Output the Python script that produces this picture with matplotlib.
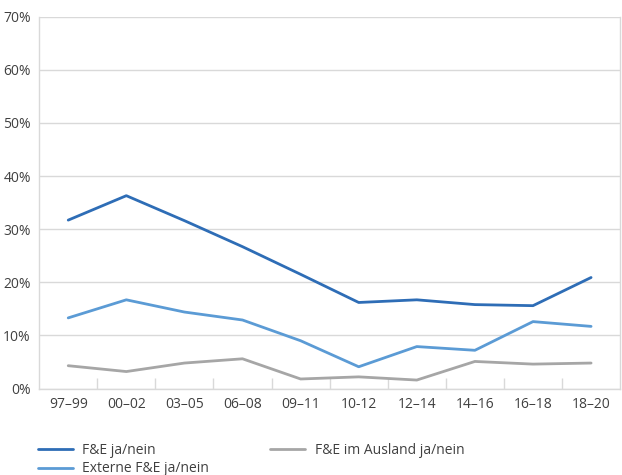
import matplotlib.pyplot as plt
import matplotlib.ticker as ticker
import numpy as np

plt.rcParams["font.family"] = ["Open Sans", "DejaVu Sans"]

periods = ["97–99", "00–02", "03–05", "06–08", "09–11", "10-12", "12–14", "14–16", "16–18", "18–20"]
fue = [31.7, 36.3, 31.6, 26.7, 21.5, 16.2, 16.7, 15.8, 15.6, 20.9]
fue_extern = [13.3, 16.7, 14.4, 12.9, 9.0, 4.1, 7.9, 7.2, 12.6, 11.7]
fue_ausland = [4.3, 3.2, 4.8, 5.6, 1.8, 2.2, 1.6, 5.1, 4.6, 4.8]

DARK = "#2E6DB6"
LIGHT = "#5B9BD5"
GREY = "#A6A6A6"
GRID = "#D9D9D9"
TXT = "#404040"

fig = plt.figure(figsize=(6.22, 4.75), dpi=100)
ax = fig.add_axes([0.063, 0.182, 0.934, 0.783])

x = np.arange(len(periods))
l1, = ax.plot(x, fue, color=DARK, lw=2.0, label="F&E ja/nein", solid_capstyle="round")
l2, = ax.plot(x, fue_extern, color=LIGHT, lw=2.0, label="Externe F&E ja/nein", solid_capstyle="round")
l3, = ax.plot(x, fue_ausland, color=GREY, lw=2.0, label="F&E im Ausland ja/nein", solid_capstyle="round")

ax.set_xlim(-0.5, len(periods) - 0.5)
ax.set_ylim(0, 70)
ax.yaxis.set_major_locator(ticker.MultipleLocator(10))
ax.yaxis.set_major_formatter(ticker.FuncFormatter(lambda v, p: f"{v:.0f}%"))
ax.grid(axis="y", color=GRID, lw=1)
ax.set_axisbelow(True)

ax.set_xticks(x)
ax.set_xticklabels(periods)
ax.tick_params(axis="x", length=0, pad=6, labelsize=10, labelcolor=TXT)
ax.set_xticks(np.arange(0.5, len(periods) - 1, 1), minor=True)
ax.tick_params(axis="x", which="minor", direction="in", length=8, color=GRID, width=1)
ax.tick_params(axis="y", length=0, pad=6, labelsize=10, labelcolor=TXT)

for side in ["left", "right", "bottom"]:
    ax.spines[side].set_color(GRID)
    ax.spines[side].set_linewidth(1)
ax.spines["top"].set_visible(False)

fig.legend(handles=[l1, l2, l3], ncol=2, loc="upper left",
           bbox_to_anchor=(0.05, 0.082), frameon=False, fontsize=10,
           labelcolor=TXT, handlelength=2.5, handletextpad=0.7,
           columnspacing=4.4, labelspacing=0.25, borderpad=0)

fig.savefig("out.png", dpi=100)
